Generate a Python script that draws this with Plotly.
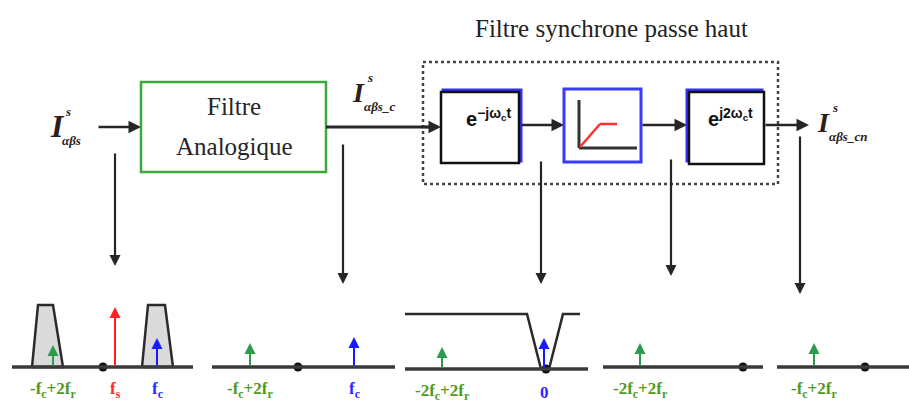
import plotly.graph_objects as go

W, H = 909, 403

# ---- text content ----
title_text = "Filtre synchrone passe haut"
analog_lines = ["Filtre", "Analogique"]
signal_subs = ["αβs", "αβs_c", "αβs_cn"]
mixer_in = "<b>e<sup>−jω<sub>c</sub>t</sup></b>"
mixer_out = "<b>e<sup>j2ω<sub>c</sub>t</sup></b>"

# ---- spectrum panels (frequency axes under each tap point) ----
panel_start = [12, 212, 405, 603, 777]
panel_end = [193, 395, 588, 763, 909]
panel_origin = [103, 298, 546, 743, 865]
panel_base = [367, 367, 369, 367, 367]

# spectral lines: panel index, position, tip height, colour, label
comp_panel = [0, 0, 0, 1, 1, 2, 2, 3, 4]
comp_pos = [53, 115, 157, 250, 354, 442, 544, 640, 814]
comp_tip = [345, 307, 338, 343, 337, 347, 338, 343, 343]
comp_kind = ["r", "s", "c", "r", "c", "r", "c", "r", "r"]
comp_label = ["-f<sub>c</sub>+2f<sub>r</sub>", "f<sub>s</sub>", "f<sub>c</sub>",
              "-f<sub>c</sub>+2f<sub>r</sub>", "f<sub>c</sub>",
              "-2f<sub>c</sub>+2f<sub>r</sub>", "0",
              "-2f<sub>c</sub>+2f<sub>r</sub>", "-f<sub>c</sub>+2f<sub>r</sub>"]
kind_color = {"r": "#2e9a4e", "s": "#ff2020", "c": "#1a1aff"}
label_color = {"r": "#4f9a24", "s": "#ff2a2a", "c": "#2a2aff"}

# analog filter passbands in the first panel
band_x = [[32, 38, 53, 63], [142, 148, 165, 173]]
band_top = 305

# synchronous high-pass response in the third panel
notch_x = [405, 527, 541, 549, 563, 580]
notch_y = [314, 314, 369, 369, 314, 314]

# vertical tap arrows from the signal chain down to the spectra
tap_x = [115, 343, 541, 671, 800]
tap_top = [152, 143, 160, 158, 135]
tap_tip = [266, 284, 284, 276, 294]

INK = "#262626"
SERIF = "Liberation Serif"

fig = go.Figure()
shapes = []
ann = []


def arrow(x0, y0, x1, y1, color=INK, width=2.2, size=1.0, head=2):
    ann.append(dict(x=x1, y=y1, ax=x0, ay=y0, xref="x", yref="y", axref="x", ayref="y",
                    showarrow=True, arrowhead=head, arrowsize=size, arrowwidth=width,
                    arrowcolor=color, text=""))


def line(x0, y0, x1, y1, color=INK, width=2.5, dash="solid"):
    shapes.append(dict(type="line", x0=x0, y0=y0, x1=x1, y1=y1,
                       line=dict(color=color, width=width, dash=dash)))


def rect(x0, y0, x1, y1, color, width=2.5, dash="solid", fill="rgba(0,0,0,0)"):
    shapes.append(dict(type="rect", x0=x0, y0=y0, x1=x1, y1=y1, fillcolor=fill,
                       line=dict(color=color, width=width, dash=dash)))


def text(x, y, s, size, color=INK, family=SERIF, xanchor="center"):
    ann.append(dict(x=x, y=y, xref="x", yref="y", text=s, showarrow=False,
                    font=dict(family=family, size=size, color=color),
                    xanchor=xanchor, yanchor="middle"))


def signal_label(x, y, sub, big=32):
    text(x, y, "<b><i>I</i></b>", big, color="#2a2018", xanchor="left")
    text(x + 15, y - 15, "<b><i>s</i></b>", 13, color="#2a2018", xanchor="left")
    text(x + 12, y + 14, "<b><i>" + sub + "</i></b>", 13, color="#2a2018", xanchor="left")


# ---- title and synchronous filter frame ----
text(611, 28, title_text, 25, color="#222")
rect(423, 62, 778, 184, "#444", width=2.5, dash="dot")

# ---- analog filter block ----
rect(141, 82, 326, 172, "#3da83d", width=2.5)
text(234, 106, analog_lines[0], 25)
text(234, 146, analog_lines[1], 25)

# ---- mixer and filter blocks ----
rect(443, 90, 521, 161, "#3030ff", width=3)
rect(441, 92, 519, 163, "#111", width=2.5, fill="white")
text(488, 117, mixer_in, 20, color="#111", family="Liberation Sans")

rect(564, 89, 641, 162, "#3a3aff", width=3)
line(579, 100, 579, 148, color="#333", width=3)
line(579, 148, 637, 148, color="#333", width=3)
line(580, 147, 600, 124, color="#ff3030", width=2.5)
line(600, 124, 617, 124, color="#ff3030", width=2.5)

rect(687, 90, 762, 161, "#3030ff", width=3)
rect(689, 92, 764, 164, "#111", width=2.5, fill="white")
text(730, 117, mixer_out, 20, color="#111", family="Liberation Sans")

# ---- signal chain ----
arrow(97, 127, 141, 127, width=2.5)
line(326, 127, 432, 127, width=3)
arrow(420, 127, 441, 127, width=2.5)
arrow(520, 125, 564, 125, width=2.5)
arrow(641, 125, 687, 125, width=2.5)
arrow(764, 125, 809, 125, width=2.5)

signal_label(48, 126, signal_subs[0])
signal_label(350, 92, signal_subs[1], big=28)
signal_label(815, 122, signal_subs[2], big=28)

# ---- taps ----
for x, y0, y1 in zip(tap_x, tap_top, tap_tip):
    arrow(x, y0, x, y1, width=2.2)

# ---- spectra ----
for xs in band_x:
    fig.add_trace(go.Scatter(
        x=[xs[0], xs[1], xs[2], xs[3], xs[0]],
        y=[367, band_top, band_top, 367, 367],
        mode="lines", fill="toself", fillcolor="#dadada",
        line=dict(color="#2a2a2a", width=2.5), hoverinfo="skip", showlegend=False))

fig.add_trace(go.Scatter(x=notch_x, y=notch_y, mode="lines",
                         line=dict(color="#2a2a2a", width=2.5),
                         hoverinfo="skip", showlegend=False))

for x0, x1, yb in zip(panel_start, panel_end, panel_base):
    line(x0, yb, x1, yb, color="#3a3a3a", width=3.5)

fig.add_trace(go.Scatter(x=panel_origin, y=panel_base, mode="markers",
                         marker=dict(color="#111", size=9), hoverinfo="skip",
                         showlegend=False))

for p, x, tip, kind, lab in zip(comp_panel, comp_pos, comp_tip, comp_kind, comp_label):
    yb = panel_base[p]
    arrow(x, yb, x, tip, color=kind_color[kind], width=2, size=1.1)
    text(x, yb + 23, "<b>" + lab + "</b>", 17, color=label_color[kind])

fig.update_layout(
    width=W, height=H, margin=dict(l=0, r=0, t=0, b=0),
    paper_bgcolor="white", plot_bgcolor="white",
    xaxis=dict(range=[0, W], visible=False, fixedrange=True),
    yaxis=dict(range=[H, 0], visible=False, fixedrange=True),
    shapes=shapes, annotations=ann, showlegend=False,
)

fig.write_html("out.html")
